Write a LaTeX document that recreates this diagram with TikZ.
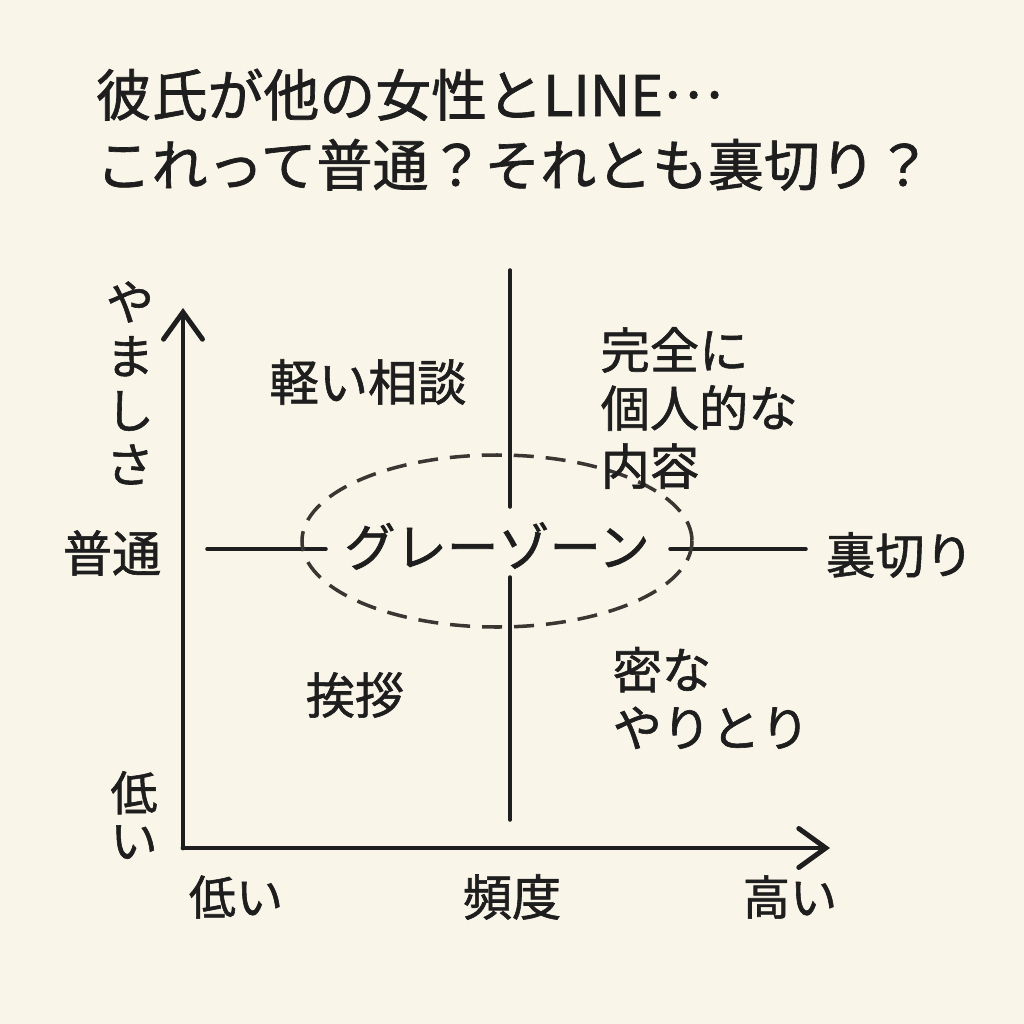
\documentclass[tikz,border=0pt]{standalone}
\usepackage{fontspec}
\newfontfamily\jp[FakeBold=1.2]{Noto Sans CJK JP}
\usetikzlibrary{arrows.meta,positioning,shapes.geometric}
\definecolor{Paper}{HTML}{FAF5E9}
\definecolor{Ink}{HTML}{1E1E1E}
\definecolor{DashInk}{HTML}{3A3733}
\tikzset{headline/.style={font=\jp\fontsize{15.9}{19.9}\selectfont,text=Ink,inner sep=0pt},txt/.style={font=\jp\fontsize{14}{16.5}\selectfont,text=Ink,inner sep=0pt,align=left},stack/.style={font=\jp\fontsize{13.6}{15.4}\selectfont,text=Ink,inner sep=0pt,align=center},axis/.style={-{Straight Barb[length=2.7mm,width=3.9mm,line cap=round]},line width=1.4pt,draw=Ink,line cap=round},split/.style={line width=1pt,draw=Ink,line cap=round},zone/.style={draw=DashInk,line width=1pt,dash pattern=on 5.7pt off 3.4pt}}

\begin{document}
\begin{tikzpicture}[x=.01cm,y=-.01cm]
        \fill[Paper](0,0)rectangle(1024,1024);
        \useasboundingbox(0,0)rectangle(1024,1024);
        % title
        \node[headline,anchor=base west] (title1) at (95,116){彼氏が他の女性とLINE\raisebox{.32em}{…}};
        \node[headline,anchor=base west] (title2) at (95,186){これって普通？それとも裏切り？};
        % axes
        \coordinate (origin) at (183,848);
        \coordinate (ytip) at (183,308);
        \coordinate (xtip) at (830,848);
        \draw[axis](origin)--(ytip);
        \draw[axis](origin)--(xtip);
        % quadrant lines
        \coordinate (vtop) at (510,270);
        \coordinate (vmid1) at (510,507);
        \coordinate (vmid2) at (510,577);
        \coordinate (vbot) at (510,820);
        \coordinate (hleft) at (207,549);
        \coordinate (hmid1) at (326,549);
        \coordinate (hmid2) at (670,549);
        \coordinate (hright) at (806,549);
        \draw[split](vtop)--(vmid1);
        \draw[split](vmid2)--(vbot);
        \draw[split](hleft)--(hmid1);
        \draw[split](hmid2)--(hright);
        % gray zone
        \node[txt,font=\jp\fontsize{14.6}{17}\selectfont] (gray) at (497,546){グレーゾーン};
        \draw[zone](497,541)ellipse[x radius=195,y radius=86];
        % quadrants
        \node[txt] (light) at (368,382){軽い相談};
        \node[txt,anchor=west] (private) at (600,408){完全に\\個人的な\\内容};
        \node[txt] (greet) at (355,695){挨拶};
        \node[txt,anchor=west] (close) at (612,698){密な\\やりとり};
        % axis labels
        \node[txt] (normal) at (112,553){普通};
        \node[txt] (betray) at (900,555){裏切り};
        \node[stack] (guilt) at (130,383){や\\ま\\し\\さ};
        \node[stack,font=\jp\fontsize{13.4}{13.6}\selectfont] (ylow) at (134,815){低\\い};
        \node[txt,font=\jp\fontsize{13.4}{16}\selectfont] (xlow) at (236,897){低い};
        \node[txt] (freq) at (512,897){頻度};
        \node[txt,font=\jp\fontsize{13.4}{16}\selectfont] (xhigh) at (790,897){高い};
      \end{tikzpicture}
\end{document}
